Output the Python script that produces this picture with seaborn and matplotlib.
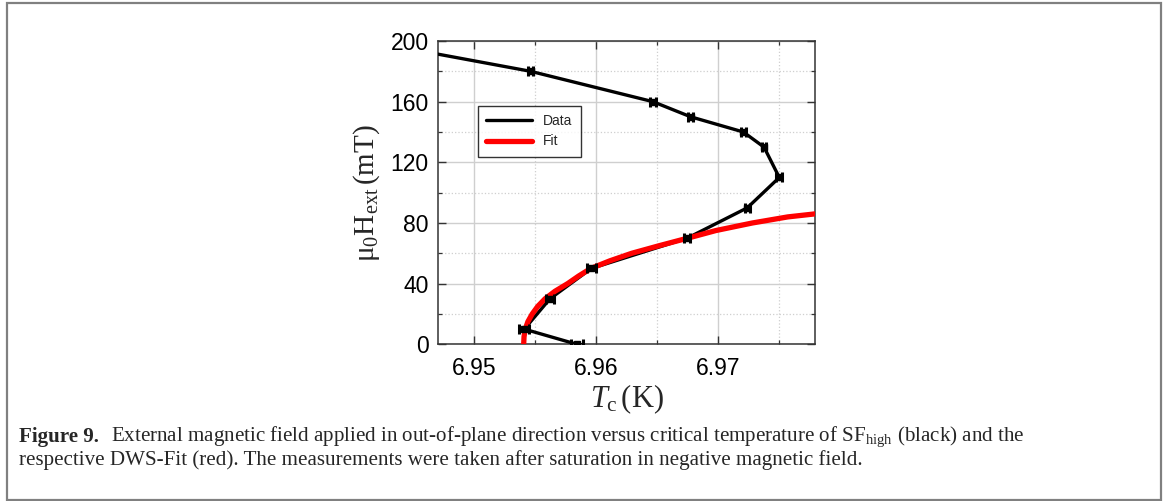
import matplotlib
matplotlib.use("Agg")
import matplotlib.pyplot as plt
import pandas as pd
import seaborn as sns
from matplotlib.patches import Rectangle
from matplotlib.ticker import MultipleLocator, FormatStrFormatter

# Measured critical temperature (K) of SF_high for each applied field (mT)
field_data = [200, 180, 160, 150, 140, 130, 110, 90, 70, 50, 30, 10, 0]
tc_data = [6.9412, 6.95462, 6.96464, 6.96774, 6.97205, 6.97375, 6.97500,
           6.97238, 6.96746, 6.95959, 6.95620, 6.95410, 6.95841]
tc_err = [0.0002, 0.0002, 0.00022, 0.0002, 0.0002, 0.0002, 0.00023,
          0.0002, 0.00025, 0.00035, 0.00035, 0.0004, 0.0005]

# DWS fit curve
fit_tc = [6.95405, 6.95408, 6.95418, 6.95440, 6.95475, 6.95520, 6.95580,
          6.95662, 6.95765, 6.95855, 6.95955, 6.96110, 6.96290, 6.96515,
          6.96750, 6.96980, 6.97280, 6.97570, 6.97850]
fit_field = [0, 5, 10, 15, 20, 25, 30, 35, 40, 45, 50, 55, 60, 65, 70, 75,
             80, 84, 86.5]

data_df = pd.DataFrame({"Tc": tc_data, "H": field_data})
fit_df = pd.DataFrame({"Tc": fit_tc, "H": fit_field})

sns.set_style("white")
plt.rcParams["font.family"] = ["Liberation Sans", "DejaVu Sans"]
plt.rcParams["mathtext.fontset"] = "custom"
plt.rcParams["mathtext.rm"] = "Liberation Serif"
plt.rcParams["mathtext.it"] = "Liberation Serif:italic"
plt.rcParams["mathtext.bf"] = "Liberation Serif:bold"

fig = plt.figure(figsize=(11.65, 5.01), dpi=100)
ax = fig.add_axes([0.3762, 0.3128, 0.3234, 0.6054])

# grid: solid major, dotted minor
ax.xaxis.set_major_locator(MultipleLocator(0.01))
ax.xaxis.set_minor_locator(MultipleLocator(0.005))
ax.yaxis.set_major_locator(MultipleLocator(40))
ax.yaxis.set_minor_locator(MultipleLocator(20))
ax.xaxis.set_major_formatter(FormatStrFormatter("%.2f"))
ax.yaxis.set_major_formatter(FormatStrFormatter("%d"))
ax.grid(True, which="major", color="#cfcfcf", lw=1.0, ls="-")
ax.grid(True, which="minor", color="#cfcfcf", lw=0.9, ls=":")
ax.set_axisbelow(True)

sns.lineplot(data=data_df, x="Tc", y="H", sort=False, color="black",
             lw=2.4, ax=ax, label="Data", zorder=3)
sns.lineplot(data=fit_df, x="Tc", y="H", sort=False, color="#ff0000",
             lw=3.8, ax=ax, label="Fit", zorder=4)
ax.errorbar(tc_data, field_data, xerr=tc_err, fmt="s", ms=4,
            color="black", ecolor="black", elinewidth=2.2, capsize=3.5,
            capthick=2.2, zorder=5)

ax.set_xlim(6.94705, 6.97793)
ax.set_ylim(0, 200)

for s in ax.spines.values():
    s.set_color("#333333")
    s.set_linewidth(1.1)

ax.tick_params(which="both", direction="in", top=True, right=True,
               bottom=True, left=True, color="#333333")
ax.tick_params(which="major", length=6, width=1.0, labelsize=16.5,
               labelcolor="black")
ax.tick_params(axis="x", which="major", pad=9)
ax.tick_params(axis="y", which="major", pad=7)
ax.tick_params(which="minor", length=3, width=0.9)

ax.set_xlabel(r"$T_{\mathrm{c}}\,(\mathrm{K})$", fontsize=22, labelpad=2)
ax.set_ylabel(r"$\mathrm{μ_0H_{ext}\,(mT)}$", fontsize=21, labelpad=6)

leg = ax.legend(loc="upper left", bbox_to_anchor=(0.105, 0.786),
                frameon=True, fancybox=False, fontsize=10, handlelength=3.3,
                borderpad=0.6, labelspacing=0.45, handletextpad=0.8,
                borderaxespad=0)
leg.get_frame().set_edgecolor("black")
leg.get_frame().set_linewidth(1.0)

# figure frame
fig.patches.append(Rectangle((7 / 1165, 1.5 / 501), 1154 / 1165, 497 / 501,
                             transform=fig.transFigure, fill=False,
                             edgecolor="#808080", lw=1.6))

# caption
cap_kw = dict(fontsize=15.1, va="center", family="Liberation Serif")
t1 = fig.text(19 / 1165, 1 - 437 / 501, "Figure 9.", weight="bold", **cap_kw)
fig.canvas.draw()
bb = t1.get_window_extent()
x_after = (bb.x1 + 12) / fig.bbox.width
fig.text(x_after, 1 - 437 / 501,
         "External magnetic field applied in out-of-plane direction versus "
         "critical temperature of SF$_{\\mathrm{high}}$ (black) and the",
         **cap_kw)
fig.text(19 / 1165, 1 - 460 / 501,
         "respective DWS-Fit (red). The measurements were taken after "
         "saturation in negative magnetic field.", **cap_kw)

fig.savefig("out.png", dpi=100)
